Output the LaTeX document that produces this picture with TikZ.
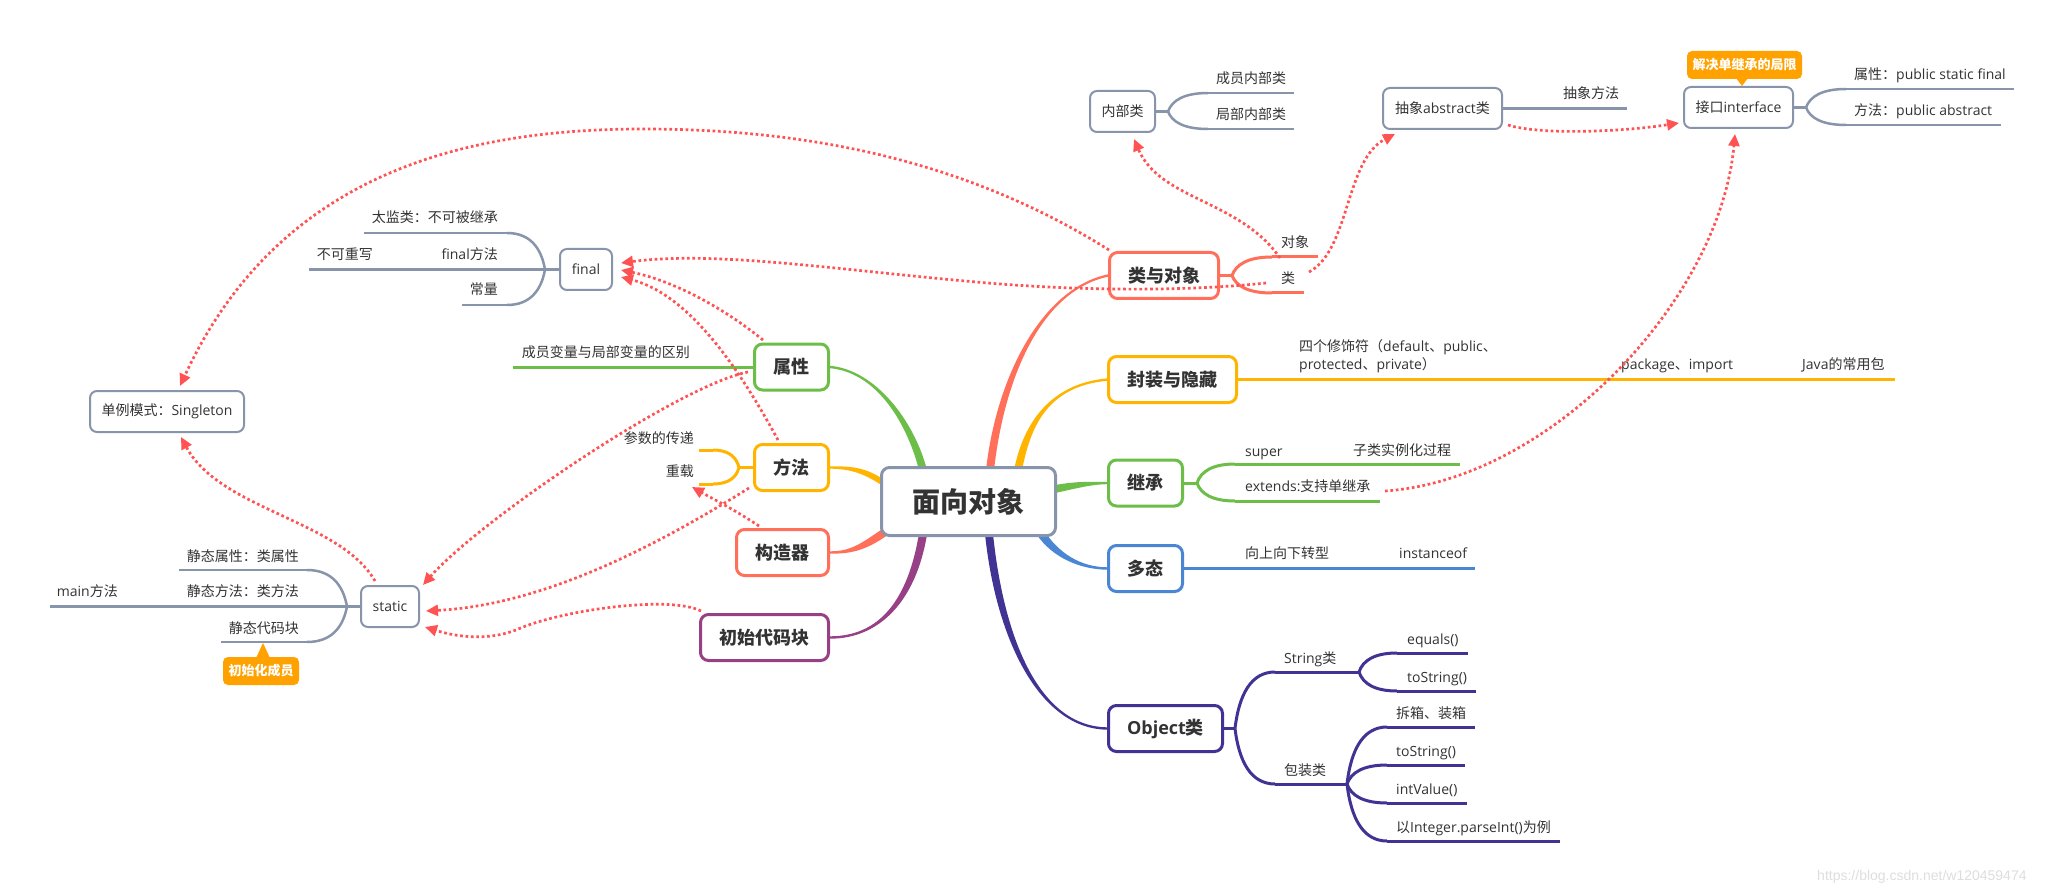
\documentclass[tikz,border=0pt]{standalone}
\usepackage{fontspec}
\setmainfont{Open Sans}
\newfontfamily\cjk{Noto Sans CJK SC}
\newfontfamily\wmfont{Liberation Sans}
\newcommand\zh[1]{{\cjk #1}}
\usetikzlibrary{calc,arrows.meta}
\definecolor{gline}{RGB}{136,148,170}
\definecolor{redd}{RGB}{255,82,82}
\definecolor{salmon}{RGB}{255,111,89}
\definecolor{orng}{RGB}{255,180,0}
\definecolor{grn}{RGB}{108,190,72}
\definecolor{blu}{RGB}{74,134,212}
\definecolor{dblu}{RGB}{64,51,148}
\definecolor{purp}{RGB}{152,64,134}
\definecolor{callo}{RGB}{255,162,0}
\definecolor{txt}{RGB}{51,51,51}
\newcommand\branch[7]{\fill[#1] ($(#2)+(#6)$) .. controls ($(#3)+(#6)$) and ($(#4)+(#7)$) .. ($(#5)+(#7)$) -- ($(#5)-(#7)$) .. controls ($(#4)-(#7)$) and ($(#3)-(#6)$) .. ($(#2)-(#6)$) -- cycle;}
\newcommand\arm[5][]{\draw[#1] (#2,#3) .. controls ({#2+0.1*(#4-#2)},{#3+0.6*(#5-#3)}) and ({#2+0.4*(#4-#2)},#5) .. (#4,#5);}
\begin{document}
\begin{tikzpicture}[x=1pt,y=-1pt,
  gl/.style={draw=gline, line width=2.5pt},
  cl/.style={draw=#1, line width=3pt},
  lbl/.style={font=\fontsize{14}{16}\selectfont, text=txt, inner sep=0pt},
  gbox/.style={draw=gline, line width=2pt, rounded corners=7pt, fill=white, font=\fontsize{14}{16}\selectfont, text=txt, inner sep=0pt, minimum height=41},
  mbox/.style={draw=#1, line width=3pt, rounded corners=8pt, fill=white, font=\fontsize{18}{20}\selectfont\bfseries, text=txt, inner sep=0pt, minimum height=46},
  callbox/.style={fill=callo, rounded corners=5pt, text=white, font=\fontsize{13}{15}\selectfont\bfseries, inner sep=0pt, minimum height=28},
  rdot/.style={draw=redd, line width=2.7pt, dash pattern=on 2.7pt off 2.7pt, -{Triangle[length=12pt,width=11pt]}}]
\useasboundingbox (0,0) rectangle (2064,893);
\fill[white] (0,0) rectangle (2064,893);

% tapered main branches
\branch{salmon}{990,470}{1000,380}{1040,290}{1108,275.5}{4,0}{0,1.2}
\branch{orng}{1018,470}{1026,430}{1045,385}{1108,379.5}{4,0}{0,1.2}
\branch{grn}{1050,490}{1075,485}{1090,483}{1108,483}{0,4}{0,1.2}
\branch{blu}{1040,532}{1055,555}{1080,568.5}{1108,568.5}{-3.4,2.2}{0,1.2}
\branch{dblu}{989,534}{1000,640}{1040,728.5}{1108,728.5}{-4,0}{0,1.2}
\branch{grn}{923,470}{910,420}{875,371}{830,367}{4,0}{0,-1.2}
\branch{orng}{885,484}{865,470}{850,467.5}{830,467.5}{0,-3.5}{0,-1.2}
\branch{salmon}{885,532}{862,548}{850,552.5}{830,552.5}{-2.3,-3.3}{0,-1.2}
\branch{purp}{923,534}{912,600}{880,637.5}{830,637.5}{-4,-0.6}{0,-1.2}

% boxes
\node[draw=gline, line width=3pt, rounded corners=8pt, fill=white, minimum width=174, minimum height=68, font=\fontsize{28}{30}\selectfont\bfseries, text=txt, inner sep=0pt] (root) at (968.5,501.5) {\zh{面向对象}};
\node[mbox=salmon, minimum width=109] (lydx) at (1164,275.5) {\zh{类与对象}};
\node[mbox=orng, minimum width=128] (fz) at (1172.5,379.5) {\zh{封装与隐藏}};
\node[mbox=grn, minimum width=74] (jc) at (1145.5,483) {\zh{继承}};
\node[mbox=blu, minimum width=74] (dt) at (1145.5,568.5) {\zh{多态}};
\node[mbox=dblu, minimum width=114] (obj) at (1165.5,728.5) {Object\zh{类}};
\node[mbox=grn, minimum width=74] (sx) at (791.5,367) {\zh{属性}};
\node[mbox=orng, minimum width=74] (ff) at (791.5,467.5) {\zh{方法}};
\node[mbox=salmon, minimum width=92] (gzq) at (782.5,552.5) {\zh{构造器}};
\node[mbox=purp, minimum width=128] (csdm) at (764.5,637.5) {\zh{初始代码块}};

\node[gbox, minimum width=52] (final) at (586,269.5) {final};
\node[gbox, minimum width=65] (nbl) at (1122.5,111.5) {\zh{内部类}};
\node[gbox, minimum width=119] (abs) at (1442.5,108.5) {\zh{抽象}abstract\zh{类}};
\node[gbox, minimum width=109] (itf) at (1738.5,107.5) {\zh{接口}interface};
\node[gbox, minimum width=154] (sgl) at (167,411.5) {\zh{单例模式：}Singleton};
\node[gbox, minimum width=58] (stc) at (390,606.5) {static};

% callouts
\node[callbox, minimum width=115] (cjj) at (1744.5,65) {\zh{解决单继承的局限}};
\fill[callo] (1736,78) -- (1748,78) -- (1742,86) -- cycle;
\node[callbox, minimum width=76] (ccy) at (261,671) {\zh{初始化成员}};
\fill[callo] (256,658) -- (270,658) -- (263,643) -- cycle;

% gray sub branches
\draw[gl] (364,233) -- (507,233);
\arm[gl]{545}{269.5}{507}{233}
\arm[gl]{545}{269.5}{507}{305}
\draw[gl] (462,305) -- (507,305);
\draw[gl] (309,269.5) -- (final.west);

\draw[gl] (179,570) -- (307,570);
\arm[gl]{347}{606.5}{307}{570}
\arm[gl]{347}{606.5}{307}{642}
\draw[gl] (221,642) -- (307,642);
\draw[gl] (50,606.5) -- (stc.west);

\draw[gl] (nbl.east) -- (1168,111.5);
\arm[gl]{1168}{111.5}{1208}{93}
\arm[gl]{1168}{111.5}{1208}{129}
\draw[gl] (1208,93) -- (1294,93);
\draw[gl] (1208,129) -- (1294,129);

\draw[gl] (abs.east) -- (1627,108.5);

\draw[gl] (itf.east) -- (1806,107.5);
\arm[gl]{1806}{107.5}{1846}{89}
\arm[gl]{1806}{107.5}{1846}{125}
\draw[gl] (1846,89) -- (2014,89);
\draw[gl] (1846,125) -- (2001,125);

% coloured sub branches
\draw[cl=salmon] (lydx.east) -- (1232,275.5);
\arm[cl=salmon]{1232}{275.5}{1272}{257}
\arm[cl=salmon]{1232}{275.5}{1272}{293}
\draw[cl=salmon] (1272,257) -- (1318,257);
\draw[cl=salmon] (1272,293) -- (1304,293);

\draw[cl=grn] (513,367) -- (sx.west);

\draw[cl=orng] (ff.west) -- (739,467.5);
\arm[cl=orng]{739}{467.5}{713}{450}
\arm[cl=orng]{739}{467.5}{713}{484}
\draw[cl=orng] (713,450) -- (699,450);
\draw[cl=orng] (713,484) -- (699,484);

\draw[cl=orng] (fz.east) -- (1895,379.5);

\draw[cl=grn] (jc.east) -- (1197,483);
\arm[cl=grn]{1197}{483}{1235}{464}
\arm[cl=grn]{1197}{483}{1235}{501}
\draw[cl=grn] (1235,464) -- (1460,464);
\draw[cl=grn] (1235,501) -- (1380,501);

\draw[cl=blu] (dt.east) -- (1475,568.5);

\draw[cl=dblu] (obj.east) -- (1235,728.5);
\arm[cl=dblu]{1235}{728.5}{1275}{672}
\arm[cl=dblu]{1235}{728.5}{1275}{784}
\draw[cl=dblu] (1275,672) -- (1359,672);
\arm[cl=dblu]{1359}{672}{1397}{653}
\arm[cl=dblu]{1359}{672}{1397}{691}
\draw[cl=dblu] (1397,653) -- (1468,653);
\draw[cl=dblu] (1397,691) -- (1476,691);
\draw[cl=dblu] (1275,784) -- (1347,784);
\foreach \yy/\xe in {727/1475,765/1465,803/1467,841/1560} {\arm[cl=dblu]{1347}{784}{1387}{\yy} \draw[cl=dblu] (1387,\yy) -- (\xe,\yy);}

% labels
\node[lbl, anchor=base east] (tj) at (498,223) {\zh{太监类：不可被继承}};
\node[lbl, anchor=base east] (bkcx) at (373,260) {\zh{不可重写}};
\node[lbl, anchor=base east] (ffm) at (498,260) {final\zh{方法}};
\node[lbl, anchor=base east] (cl) at (498,295) {\zh{常量}};
\node[lbl, anchor=base east] (jtsx) at (299,561) {\zh{静态属性：类属性}};
\node[lbl, anchor=base east] (jtff) at (299,596) {\zh{静态方法：类方法}};
\node[lbl, anchor=base east] (mainm) at (118,596) {main\zh{方法}};
\node[lbl, anchor=base east] (jtdm) at (299,633) {\zh{静态代码块}};
\node[lbl, anchor=base east] (cybl) at (690,357) {\zh{成员变量与局部变量的区别}};
\node[lbl, anchor=base east] (cscd) at (694,443) {\zh{参数的传递}};
\node[lbl, anchor=base east] (cz) at (694,476) {\zh{重载}};

\node[lbl, anchor=base west] (cynb) at (1216,84) {\zh{成员内部类}};
\node[lbl, anchor=base west] (jbnb) at (1216,120) {\zh{局部内部类}};
\node[lbl, anchor=base west] (dx) at (1281,248) {\zh{对象}};
\node[lbl, anchor=base west] (lei) at (1281,284) {\zh{类}};
\node[lbl, anchor=base west] (cxff) at (1563,99) {\zh{抽象方法}};
\node[lbl, anchor=base west] (itsx) at (1854,80) {\zh{属性：}public static final};
\node[lbl, anchor=base west] (itff) at (1854,116) {\zh{方法：}public abstract};
\node[lbl, anchor=base west] (xsf1) at (1299,351) {\zh{四个修饰符（}default\zh{、}public\zh{、}};
\node[lbl, anchor=base west] (xsf2) at (1299,369) {protected\zh{、}private\zh{）}};
\node[lbl, anchor=base west] (pkg) at (1621,369) {package\zh{、}import};
\node[lbl, anchor=base west] (java) at (1802,369) {Java\zh{的常用包}};
\node[lbl, anchor=base west] (sup) at (1245,456) {super};
\node[lbl, anchor=base west] (zlsl) at (1353,455) {\zh{子类实例化过程}};
\node[lbl, anchor=base west] (ext) at (1245,491) {extends:\zh{支持单继承}};
\node[lbl, anchor=base west] (zx) at (1245,558) {\zh{向上向下转型}};
\node[lbl, anchor=base west] (inst) at (1399,558) {instanceof};
\node[lbl, anchor=base west] (strl) at (1284,663) {String\zh{类}};
\node[lbl, anchor=base west] (bzl) at (1284,775) {\zh{包装类}};
\node[lbl, anchor=base west] (eq) at (1407,644) {equals()};
\node[lbl, anchor=base west] (ts1) at (1407,682) {toString()};
\node[lbl, anchor=base west] (cx) at (1396,718) {\zh{拆箱、装箱}};
\node[lbl, anchor=base west] (ts2) at (1396,756) {toString()};
\node[lbl, anchor=base west] (iv) at (1396,794) {intValue()};
\node[lbl, anchor=base west] (pi) at (1396,832) {\zh{以}Integer.parseInt()\zh{为例}};
\node[anchor=base west, inner sep=0pt, font=\wmfont\fontsize{14}{16}\selectfont, text={rgb,255:red,222;green,222;blue,222}] (wm) at (1817,880) {https://blog.csdn.net/w120459474};

% dotted relation arrows
\draw[rdot] (1109,250) .. controls (950,150) and (780,129) .. (643,129) .. controls (470,129) and (280,170) .. (180,386);
\draw[rdot] (1266,283) .. controls (1180,292) and (1080,290) .. (1000,284) .. controls (850,272) and (720,250) .. (621,263);
\draw[rdot] (763,340) .. controls (720,305) and (670,280) .. (621,270);
\draw[rdot] (778,440) .. controls (740,370) and (690,295) .. (621,277);
\draw[rdot] (748,372) .. controls (680,385) and (480,520) .. (423,585);
\draw[rdot] (749,488) .. controls (650,550) and (540,605) .. (426,611);
\draw[rdot] (701,611) .. controls (670,595) and (560,610) .. (516,630) .. controls (490,640) and (460,638) .. (425,627);
\draw[rdot] (759,526) .. controls (735,510) and (715,500) .. (692,487);
\draw[rdot] (1280,258) .. controls (1240,200) and (1160,200) .. (1134,139);
\draw[rdot] (1309,272) .. controls (1350,250) and (1345,160) .. (1395,134);
\draw[rdot] (1508,125) .. controls (1540,135) and (1620,132) .. (1679,123);
\draw[rdot] (1385,491) .. controls (1550,480) and (1720,300) .. (1735,134);
\draw[rdot] (375,581) .. controls (340,520) and (220,510) .. (181,437);
\end{tikzpicture}
\end{document}
